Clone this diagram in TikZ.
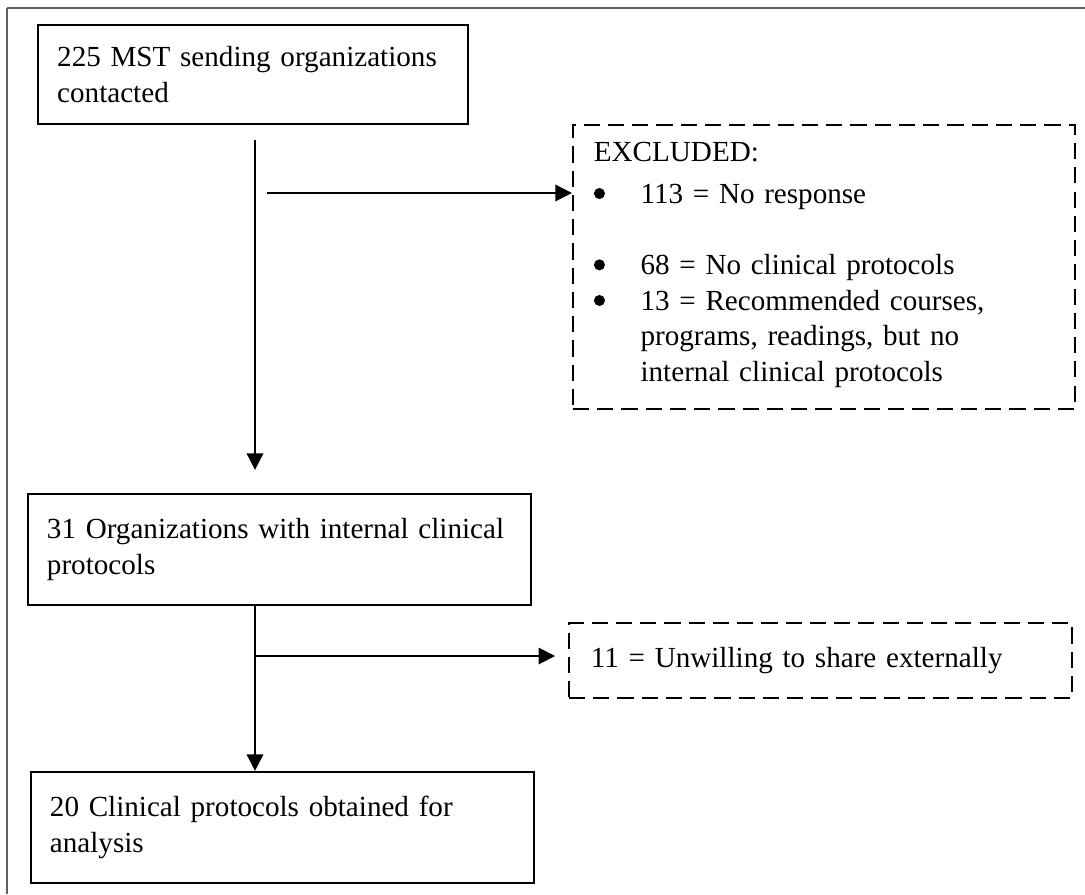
\documentclass[tikz,border=0pt]{standalone}
\usepackage{fontspec}
\setmainfont{Liberation Serif}
\usepackage{xcolor}
\usetikzlibrary{arrows.meta, positioning, calc}
\definecolor{FrameGray}{RGB}{95, 95, 95}
\newcommand{\exdot}{\tikz[baseline=0pt]\fill (0.15em,0.33em) circle[radius=0.19em];}

\tikzset{
  stagebox/.style={draw, line width=0.8pt, anchor=north west, align=left,
    inner xsep=0.281cm, inner ysep=0pt, font=\fontsize{12.25}{15}\selectfont},
  exclbox/.style={stagebox, dash pattern=on 6.8pt off 3.4pt},
  flow/.style={line width=1.2pt, -{Triangle[length=7pt, width=6.8pt]}}
}

\begin{document}
\begin{tikzpicture}[x=0.01479cm, y=-0.01479cm]
            \useasboundingbox (0,0) rectangle (1085,894);
            % outer frame (top and left only)
            \draw[FrameGray, line width=1.1pt] (7,8) -- (1085,8);
            \draw[FrameGray, line width=0.7pt] (7,8) -- (7,894);

            \node[stagebox, minimum width=6.36cm, minimum height=1.464cm, text width=5.79cm] (contacted) at (37,24)
              {225 MST sending organizations\\contacted};

            \node[exclbox, minimum width=7.42cm, minimum height=4.20cm, text width=6.80cm, inner xsep=0.31cm] (excl1) at (572,124)
              {EXCLUDED:\\[6pt]
               \begin{tabular}{@{}p{0.69cm}@{}l@{}}
               \exdot & 113 = No response\\[15pt]
               \exdot & 68 = No clinical protocols\\
               \exdot & 13 = Recommended courses,\\
                      & programs, readings, but no\\
                      & internal clinical protocols
               \end{tabular}};

            \node[stagebox, minimum width=7.44cm, minimum height=1.642cm, text width=6.88cm] (internal) at (27,493)
              {31 Organizations with internal clinical\\protocols};

            \node[exclbox, minimum width=7.44cm, minimum height=1.109cm, text width=6.79cm, inner xsep=0.325cm] (excl2) at (568,622)
              {11 = Unwilling to share externally};

            \node[stagebox, minimum width=7.44cm, minimum height=1.642cm, text width=6.88cm] (obtained) at (30,771)
              {20 Clinical protocols obtained for\\analysis};

            % connectors
            \coordinate (down1) at (255,140);
            \coordinate (down1end) at (255,470);
            \coordinate (side1) at (267,193);
            \coordinate (split2) at (255,656);

            \draw[flow] (down1) -- (down1end);
            \draw[flow] (side1) -- (side1 -| excl1.west);
            \draw[flow] (internal.south -| split2) -- (obtained.north -| split2);
            \draw[flow, shorten >=0.19cm] (split2) -- (split2 -| excl2.west);
        \end{tikzpicture}
\end{document}
